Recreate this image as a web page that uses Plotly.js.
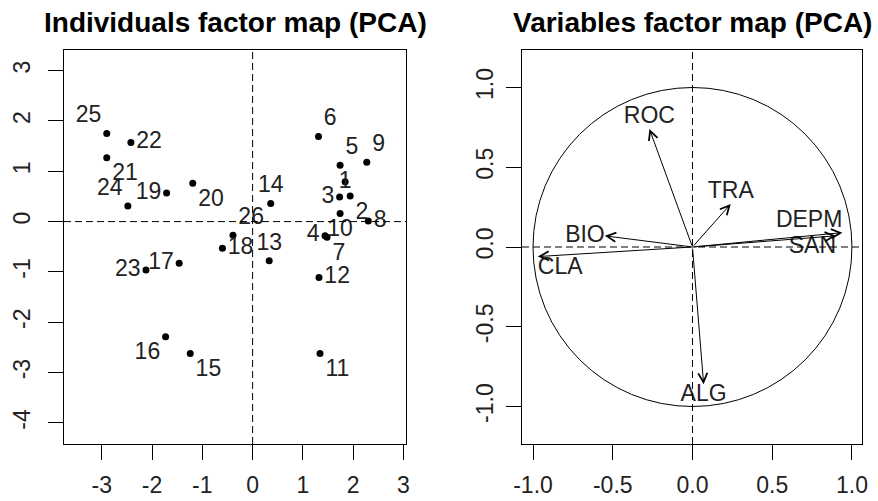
<!DOCTYPE html>
<html>
<head>
<meta charset="utf-8">
<script src="https://cdn.plot.ly/plotly-3.0.1.min.js"></script>
<style>
  html, body { margin: 0; padding: 0; background: #fff; }
  #chart { width: 878px; height: 501px; }
</style>
</head>
<body>
<div id="chart"></div>
<script>
// Individuals: coordinates on the first two principal components
const indLabels = ['1','2','3','4','5','6','7','8','9','10','11','12','13',
                   '14','15','16','17','18','19','20','21','22','23','24','25','26'];
const indDim1 = [1.84, 1.94, 1.73, 1.44, 1.74, 1.31, 1.48, 2.30, 2.27, 1.74, 1.34, 1.32, 0.33,
                 0.36, -1.24, -1.73, -1.46, -0.60, -1.71, -1.19, -2.90, -2.42, -2.12, -2.48, -2.90, -0.39];
const indDim2 = [0.79, 0.51, 0.49, -0.28, 1.12, 1.69, -0.31, 0.01, 1.18, 0.16, -2.62, -1.11, -0.78,
                 0.36, -2.62, -2.29, -0.83, -0.53, 0.57, 0.76, 1.27, 1.57, -0.96, 0.31, 1.75, -0.27];
const indLabelPos = ['middle center','bottom right','middle left','middle left','top right','top right',
                     'bottom right','middle right','top right','bottom center','bottom right','middle right',
                     'top center','top center','bottom right','bottom left','middle left','middle right',
                     'middle left','bottom right','bottom right','middle right','middle left','top left',
                     'top left','top right'];

// Variables: correlations with the first two components
const varNames = ['ROC', 'TRA', 'DEPM', 'SAN', 'BIO', 'CLA', 'ALG'];
const varDim1 = [-0.27, 0.24, 0.94, 0.90, -0.55, -0.97, 0.07];
const varDim2 = [0.74, 0.27, 0.09, 0.07, 0.07, -0.06, -0.86];
const varLabelPos = ['top center', 'top center', 'top left', 'bottom left', 'middle left', 'bottom right', 'bottom center'];

// Axis ticks
const indXTicks = [-3, -2, -1, 0, 1, 2, 3];
const indXTickText = ['-3', '-2', '-1', '0', '1', '2', '3'];
const indYTicks = [-4, -3, -2, -1, 0, 1, 2, 3];
const indYTickText = ['-4', '-3', '-2', '-1', '0', '1', '2', '3'];
const varTicks = [-1, -0.5, 0, 0.5, 1];
const varTickText = ['-1.0', '-0.5', '0.0', '0.5', '1.0'];

const titles = ['Individuals factor map (PCA)', 'Variables factor map (PCA)'];

const FONT = 'Liberation Sans, Arial, Helvetica, sans-serif';
const W = 878, H = 501;

const traces = [
  {
    type: 'scatter', mode: 'markers+text',
    x: indDim1, y: indDim2, text: indLabels, textposition: indLabelPos,
    marker: { color: '#000', size: 7 },
    textfont: { family: FONT, size: 23, color: '#222' },
    xaxis: 'x', yaxis: 'y', cliponaxis: false, hoverinfo: 'text'
  },
  {
    type: 'scatter', mode: 'text',
    x: varDim1, y: varDim2, text: varNames, textposition: varLabelPos,
    textfont: { family: FONT, size: 23, color: '#222' },
    xaxis: 'x2', yaxis: 'y2', cliponaxis: false, hoverinfo: 'text'
  }
];

function axisBase(extra) {
  return Object.assign({
    showgrid: false, zeroline: false,
    showline: true, mirror: true, linecolor: '#000', linewidth: 1,
    ticks: 'outside', ticklen: 15, tickwidth: 1, tickcolor: '#000',
    tickfont: { family: FONT, size: 23, color: '#222' },
    tickmode: 'array', fixedrange: true, automargin: false
  }, extra);
}

const xDomL = [64 / W, 406 / W];
const xDomR = [522 / W, 862 / W];
const yDom = [1 - 444 / H, 1 - 50 / H];

const dash = { color: '#000', width: 1, dash: '7px,4px' };
const shapes = [
  { type: 'line', xref: 'x', yref: 'y domain', x0: 0, x1: 0, y0: 0, y1: 1, line: dash },
  { type: 'line', xref: 'x domain', yref: 'y', x0: 0, x1: 1, y0: 0, y1: 0, line: dash },
  { type: 'line', xref: 'x2', yref: 'y2 domain', x0: 0, x1: 0, y0: 0, y1: 1, line: dash },
  { type: 'line', xref: 'x2 domain', yref: 'y2', x0: 0, x1: 1, y0: 0, y1: 0, line: dash },
  { type: 'circle', xref: 'x2', yref: 'y2', x0: -1, y0: -1, x1: 1, y1: 1,
    line: { color: '#000', width: 1 } }
];

// Arrows from the origin to each variable
const annotations = varNames.map((name, i) => ({
  xref: 'x2', yref: 'y2', axref: 'x2', ayref: 'y2',
  x: varDim1[i], y: varDim2[i], ax: 0, ay: 0,
  text: '', showarrow: true, arrowhead: 5, arrowsize: 1.8, arrowwidth: 1,
  arrowcolor: '#000', standoff: 0, startstandoff: 0
}));

// Panel titles
titles.forEach((t, i) => {
  const dom = i === 0 ? xDomL : xDomR;
  annotations.push({
    xref: 'paper', yref: 'paper', x: (dom[0] + dom[1]) / 2, y: 1 - 23 / H,
    xanchor: 'center', yanchor: 'middle', showarrow: false,
    text: '<b>' + t + '</b>',
    font: { family: FONT, size: 28, color: '#000' }
  });
});

const layout = {
  width: W, height: H,
  margin: { l: 0, r: 0, t: 0, b: 0, pad: 0 },
  paper_bgcolor: '#fff', plot_bgcolor: '#fff',
  showlegend: false,
  xaxis: axisBase({ domain: xDomL, range: [-3.75, 3.05], anchor: 'y',
                    tickvals: indXTicks, ticktext: indXTickText, ticklabelstandoff: 5 }),
  yaxis: axisBase({ domain: yDom, range: [-4.42, 3.41], anchor: 'x',
                    tickvals: indYTicks, ticktext: indYTickText, tickangle: -90, ticklabelstandoff: 9 }),
  xaxis2: axisBase({ domain: xDomR, range: [-1.069, 1.063], anchor: 'y2',
                     tickvals: varTicks, ticktext: varTickText, ticklabelstandoff: 5 }),
  yaxis2: axisBase({ domain: yDom, range: [-1.235, 1.235], anchor: 'x2',
                     tickvals: varTicks, ticktext: varTickText, tickangle: -90, ticklabelstandoff: 4 }),
  shapes: shapes,
  annotations: annotations
};

Plotly.newPlot('chart', traces, layout, { displayModeBar: false, staticPlot: true });
</script>
</body>
</html>
